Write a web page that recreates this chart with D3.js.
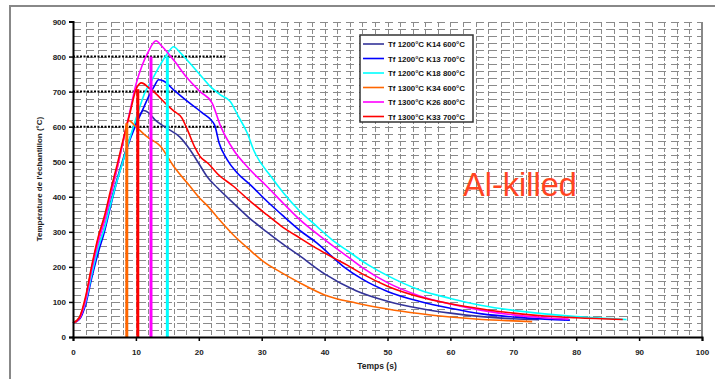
<!DOCTYPE html>
<html>
<head>
<meta charset="utf-8">
<script src="https://cdn.jsdelivr.net/npm/d3@7"></script>
<style>
  body { margin: 0; background: #fff; }
  svg { display: block; }
</style>
</head>
<body>
<div id="chart"></div>
<script>
// series labels, in legend order
const seriesNames = [
    "Tf 1200°C K14 600°C",
    "Tf 1200°C K13 700°C",
    "Tf 1200°C K18 800°C",
    "Tf 1300°C K34 600°C",
    "Tf 1300°C K26 800°C",
    "Tf 1300°C K33 700°C"
];

// [time (s), temperature (°C)]
const k14 = [[0,40],[1,52],[2,100],[3,185],[4,255],[5,310],[6,385],[7,450],[8,510],[9,565],[10,610],[11.2,646],[12,640],[13,620],[14.9,596],[17,570],[18.6,534],[20,495],[21.3,458],[23,425],[25.5,382],[28,340],[30.8,300],[33,270],[36,232],[40,180],[45,132],[50,102],[55,82],[60,68],[65,58],[70,52],[74,49]];
const k13 = [[0,40],[1,50],[2,92],[3,170],[4,240],[5,300],[6,375],[7,445],[8,505],[9,560],[10,605],[11,645],[12,685],[13,718],[13.6,734],[14.4,730],[16,705],[18,675],[20.5,640],[22.5,605],[23.2,555],[24.5,506],[26,470],[28.2,434],[30.8,388],[33.5,344],[36,305],[38.8,268],[43,201],[46,165],[50,130],[55,102],[60,82],[65,66],[70,57],[75,51],[79,48]];
const k18 = [[0,40],[1,55],[2,100],[3,180],[4,255],[5,310],[6,380],[7,445],[8,505],[9,565],[9.6,600],[10.5,650],[11.5,700],[12.3,725],[13.5,765],[14.9,806],[16,828],[17,812],[18.1,791],[20.2,748],[21.8,715],[23.5,690],[25,672],[26.3,629],[27.7,582],[28.7,534],[31.6,455],[33.5,410],[36,360],[38.8,315],[41,280],[43.8,244],[47,205],[50,175],[55,135],[60,110],[65,90],[70,76],[75,66],[80,58],[88,50]];
const k34 = [[0,40],[1,55],[2,110],[3,200],[4,280],[5,340],[6,410],[7,480],[8,560],[8.8,618],[10,600],[11.7,572],[13.9,544],[16,487],[18.6,430],[20.2,395],[21.5,372],[23,340],[25.5,291],[28,250],[30.3,215],[33,185],[36,155],[40,120],[45,97],[50,80],[55,67],[60,57],[65,50],[70,46],[73,44]];
const k26 = [[0,40],[1,52],[2,105],[3,195],[4,270],[5,330],[6,405],[7,480],[8,560],[9,640],[10,720],[11,775],[12,815],[13.2,845],[14.1,830],[16,790],[18.1,740],[20.2,700],[22.1,668],[23.5,600],[25.5,534],[28,480],[30.8,430],[33.5,380],[36.1,334],[40,278],[43.6,230],[46,198],[50,155],[55,118],[60,94],[65,76],[70,63],[75,55],[78.8,51]];
const k33 = [[0,40],[1,55],[2,115],[3,205],[4,285],[5,345],[6,420],[7,490],[8,565],[9,635],[10.1,710],[10.9,725],[12,712],[13,697],[14.9,663],[16,645],[17.3,625],[18.1,595],[19.4,540],[20.2,515],[21.5,495],[23,465],[25.5,430],[28,390],[30.8,349],[33,318],[36.1,282],[38.8,252],[41.5,225],[43.6,205],[46,180],[50,145],[55,115],[60,95],[65,80],[70,68],[75,60],[80,55],[87.4,50]];
const seriesData = [k14, k13, k18, k34, k26, k33];

// vertical marker lines: which series, time, top temperature
const markers = [
    {series: 3, t: 8.55, top: 610},
    {series: 5, t: 10.3, top: 707},
    {series: 4, t: 12.4, top: 800},
    {series: 2, t: 15.0, top: 800}
];
// dotted reference levels
const refLevels = [600, 700, 800];
const refEnd = 24.5;

const xTickValues = [0,10,20,30,40,50,60,70,80,90,100];
const yTickValues = [0,100,200,300,400,500,600,700,800,900];
const xGridValues = d3.range(2, 101, 2);
const yGridValues = d3.range(20, 901, 20);

const colors = ["#333399", "#0000ff", "#00ffff", "#ff6600", "#ff00ff", "#ff0000"];
const fontFamily = "'Liberation Sans', Arial, sans-serif";

const svg = d3.select("#chart").append("svg")
    .attr("width", 728).attr("height", 379);

const x = d3.scaleLinear().domain([0, 100]).range([73, 702]);
const y = d3.scaleLinear().domain([0, 900]).range([337, 21.5]);

// dashed grid, every 2 s and every 20 °C (crisp so the grey survives)
const grid = svg.append("g").attr("shape-rendering", "crispEdges");
grid.selectAll("line.gx").data(xGridValues).join("line")
    .attr("class", "gx")
    .attr("x1", d => Math.round(x(d)) + 0.5).attr("x2", d => Math.round(x(d)) + 0.5)
    .attr("y1", y(900)).attr("y2", y(0))
    .attr("stroke", "#8a8a8a").attr("stroke-width", 1)
    .attr("stroke-dasharray", "5,2");
grid.selectAll("line.gy").data(yGridValues).join("line")
    .attr("class", "gy")
    .attr("x1", x(0)).attr("x2", x(100))
    .attr("y1", d => Math.round(y(d)) + 0.5).attr("y2", d => Math.round(y(d)) + 0.5)
    .attr("stroke", "#8a8a8a").attr("stroke-width", 1)
    .attr("stroke-dasharray", "8,5");

// right border of the plot area and outer frame of the figure
svg.append("g").attr("shape-rendering", "crispEdges")
    .append("line")
    .attr("x1", x(100)).attr("x2", x(100)).attr("y1", y(900)).attr("y2", y(0))
    .attr("stroke", "#888").attr("stroke-width", 2);
svg.append("line").attr("x1", 10).attr("x2", 10).attr("y1", 5).attr("y2", 379)
    .attr("stroke", "#888").attr("stroke-width", 2);
svg.append("line").attr("x1", 9).attr("x2", 715).attr("y1", 6).attr("y2", 6)
    .attr("stroke", "#888").attr("stroke-width", 2);

// dotted reference levels
svg.append("g").selectAll("line.ref").data(refLevels).join("line")
    .attr("class", "ref")
    .attr("x1", x(0)).attr("x2", x(refEnd))
    .attr("y1", d => y(d)).attr("y2", d => y(d))
    .attr("stroke", "#000").attr("stroke-width", 2)
    .attr("stroke-dasharray", "2,1.5");

// the curves
const curveGen = d3.line()
    .x(d => x(d[0])).y(d => y(d[1]))
    .curve(d3.curveMonotoneX);
svg.append("g").selectAll("path.curve").data(seriesData).join("path")
    .attr("class", "curve")
    .attr("fill", "none")
    .attr("stroke", (d, i) => colors[i])
    .attr("stroke-width", 1.6)
    .attr("d", curveGen);

// vertical markers
svg.append("g").selectAll("line.marker").data(markers).join("line")
    .attr("class", "marker")
    .attr("x1", d => x(d.t)).attr("x2", d => x(d.t))
    .attr("y1", y(0)).attr("y2", d => y(d.top))
    .attr("stroke", d => colors[d.series]).attr("stroke-width", 3);

// axes
const xAxis = svg.append("g")
    .attr("transform", `translate(0,${y(0)})`)
    .call(d3.axisBottom(x).tickValues(xTickValues).tickSize(4).tickPadding(8));
const yAxis = svg.append("g")
    .attr("transform", `translate(${x(0)},0)`)
    .call(d3.axisLeft(y).tickValues(yTickValues).tickSize(4).tickPadding(3));
[xAxis, yAxis].forEach(a => {
    a.select(".domain").attr("stroke", "#000").attr("stroke-width", 2);
    a.selectAll(".tick line").attr("stroke", "#000").attr("stroke-width", 1.5);
    a.selectAll(".tick text")
        .attr("font-family", fontFamily)
        .attr("font-size", 8).attr("font-weight", "bold").attr("fill", "#222");
});

// axis titles
svg.append("text")
    .attr("x", 377).attr("y", 369)
    .attr("text-anchor", "middle").attr("font-family", fontFamily)
    .attr("font-size", 8.5).attr("font-weight", "bold").attr("fill", "#222")
    .text("Temps (s)");
svg.append("text")
    .attr("transform", "translate(42,179) rotate(-90)")
    .attr("text-anchor", "middle").attr("font-family", fontFamily)
    .attr("font-size", 8).attr("font-weight", "bold").attr("fill", "#222")
    .text("Température de l'échantillon (°C)");

// legend
const legend = svg.append("g").attr("transform", "translate(360,35)");
legend.append("rect")
    .attr("width", 113).attr("height", 87)
    .attr("fill", "#fff").attr("stroke", "#333").attr("stroke-width", 1.5);
const items = legend.selectAll("g.item").data(seriesNames).join("g")
    .attr("class", "item")
    .attr("transform", (d, i) => `translate(0,${9 + i * 14.5})`);
items.append("line")
    .attr("x1", 3).attr("x2", 24)
    .attr("stroke", (d, i) => colors[i]).attr("stroke-width", 1.6);
items.append("text")
    .attr("x", 28).attr("y", 3).attr("font-family", fontFamily)
    .attr("font-size", 7.9).attr("font-weight", "bold").attr("fill", "#111")
    .text(d => d);

// annotation
svg.append("text")
    .attr("x", 463).attr("y", 196).attr("font-family", fontFamily)
    .attr("font-size", 32.5).attr("fill", "#ff4422")
    .text("Al-killed");
</script>
</body>
</html>
